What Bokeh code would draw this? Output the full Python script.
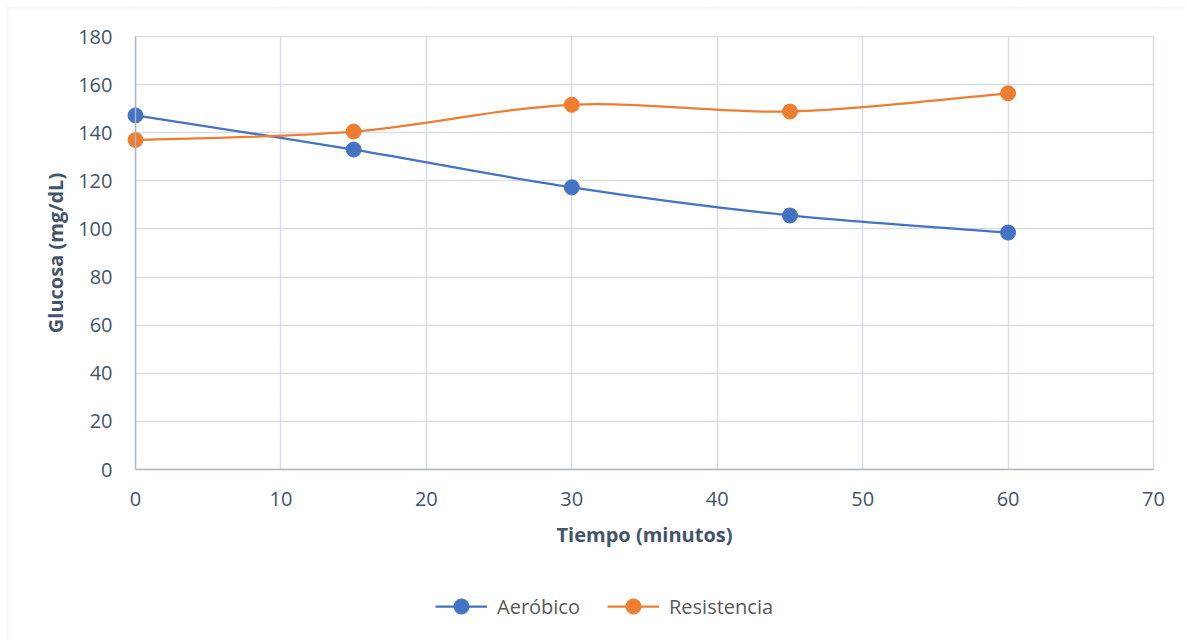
from bokeh.plotting import figure
from bokeh.models import (Range1d, FixedTicker, Legend, LegendItem, BoxAnnotation,
                          ColumnDataSource)
from bokeh.embed import file_html
from bokeh.resources import INLINE

# Glucose readings over time for the two exercise groups
tiempo = [0, 15, 30, 45, 60]
aerobico = [147.2, 133.0, 117.3, 105.6, 98.5]
resistencia = [137.0, 140.5, 151.6, 148.8, 156.4]

x_ticks = [0, 10, 20, 30, 40, 50, 60, 70]
y_ticks = [0, 20, 40, 60, 80, 100, 120, 140, 160, 180]
X_MAX, Y_MAX = 70, 180

BLUE = "#4472C4"
ORANGE = "#ED7D31"
TEXT = "#44546A"
GRID = "#d9dee6"
FONT = "Open Sans"

# canvas and plot-area geometry (pixels)
W, H = 1186, 641
AREA_L, AREA_R, AREA_T, AREA_B = 135, 1153, 36, 469
sx = (AREA_R - AREA_L) / X_MAX          # px per minute
sy = (AREA_B - AREA_T) / Y_MAX          # px per mg/dL


def smooth_segments(xs, ys):
    """Cubic Bezier segments through the points (Catmull-Rom style tangents)."""
    n = len(xs)
    seg = dict(x0=[], y0=[], x1=[], y1=[], cx0=[], cy0=[], cx1=[], cy1=[])
    for i in range(n - 1):
        ip = i - 1 if i > 0 else i
        i2 = i + 2 if i + 2 < n else i + 1
        seg["x0"].append(xs[i])
        seg["y0"].append(ys[i])
        seg["x1"].append(xs[i + 1])
        seg["y1"].append(ys[i + 1])
        seg["cx0"].append(xs[i] + (xs[i + 1] - xs[ip]) / 6)
        seg["cy0"].append(ys[i] + (ys[i + 1] - ys[ip]) / 6)
        seg["cx1"].append(xs[i + 1] - (xs[i2] - xs[i]) / 6)
        seg["cy1"].append(ys[i + 1] - (ys[i2] - ys[i]) / 6)
    return ColumnDataSource(seg)


# the frame fills the whole canvas; axes are pinned at x = 0 and y = 0
p = figure(width=W, height=H, output_backend="svg", toolbar_location=None,
           x_range=Range1d(-AREA_L / sx, X_MAX + (W - AREA_R) / sx),
           y_range=Range1d(-(H - AREA_B) / sy, Y_MAX + AREA_T / sy),
           min_border_left=0, min_border_right=0,
           min_border_top=0, min_border_bottom=0)
p.outline_line_color = None
p.background_fill_color = "white"
p.border_fill_color = "white"

for ax in (p.xaxis[0], p.yaxis[0]):
    ax.fixed_location = 0
    ax.major_tick_line_color = None
    ax.minor_tick_line_color = None
    ax.axis_line_color = "#aab6c8"
    ax.axis_line_width = 1.5
    ax.major_label_text_font = FONT
    ax.major_label_text_font_size = "20px"
    ax.major_label_text_color = TEXT
    ax.axis_label_text_font = FONT
    ax.axis_label_text_font_size = "20px"
    ax.axis_label_text_font_style = "bold"
    ax.axis_label_text_color = TEXT

p.xaxis[0].ticker = FixedTicker(ticks=x_ticks)
p.yaxis[0].ticker = FixedTicker(ticks=y_ticks)
p.xaxis[0].bounds = (0, X_MAX)
p.yaxis[0].bounds = (0, Y_MAX)
p.xaxis[0].axis_label = "Tiempo (minutos)"
p.yaxis[0].axis_label = "Glucosa (mg/dL)"
p.xaxis[0].major_label_standoff = 16
p.yaxis[0].major_label_standoff = 17
p.xaxis[0].axis_label_standoff = 12
p.yaxis[0].axis_label_standoff = 6

p.xgrid[0].ticker = FixedTicker(ticks=x_ticks)
p.ygrid[0].ticker = FixedTicker(ticks=y_ticks)
for g in (p.xgrid[0], p.ygrid[0]):
    g.grid_line_color = GRID
    g.grid_line_width = 1.5

# white masks trim the grid to the 0..70 x 0..180 plot area
half = 0.75
for box in (dict(right=0), dict(left=X_MAX + half / sx),
            dict(top=0), dict(bottom=Y_MAX + half / sy)):
    p.add_layout(BoxAnnotation(fill_color="white", fill_alpha=1, line_color=None,
                               level="underlay", **box))

items = []
for name, vals, color in (("Aeróbico", aerobico, BLUE), ("Resistencia", resistencia, ORANGE)):
    curve = p.bezier(x0="x0", y0="y0", x1="x1", y1="y1", cx0="cx0", cy0="cy0",
                     cx1="cx1", cy1="cy1", source=smooth_segments(tiempo, vals),
                     line_color=color, line_width=2.25)
    pts = p.scatter(tiempo, vals, size=15, fill_color=color, line_color=color)
    items.append(LegendItem(label=name, renderers=[curve, pts]))

legend = Legend(items=items, orientation="horizontal", location=(435, 16),
                glyph_width=52, glyph_height=38, label_height=20,
                label_standoff=10, spacing=27, padding=0, margin=0,
                border_line_color=None, background_fill_alpha=0,
                label_text_font=FONT, label_text_font_size="20px",
                label_text_color="#595959")
p.add_layout(legend, "center")

# light frame around the whole chart
p.add_layout(BoxAnnotation(left=7, right=W + 20, top=7, bottom=H + 20,
                           left_units="canvas", right_units="canvas",
                           top_units="canvas", bottom_units="canvas",
                           fill_alpha=0, line_color="#d5dae2", line_width=2))

open("out.html", "w").write(file_html(p, INLINE))
